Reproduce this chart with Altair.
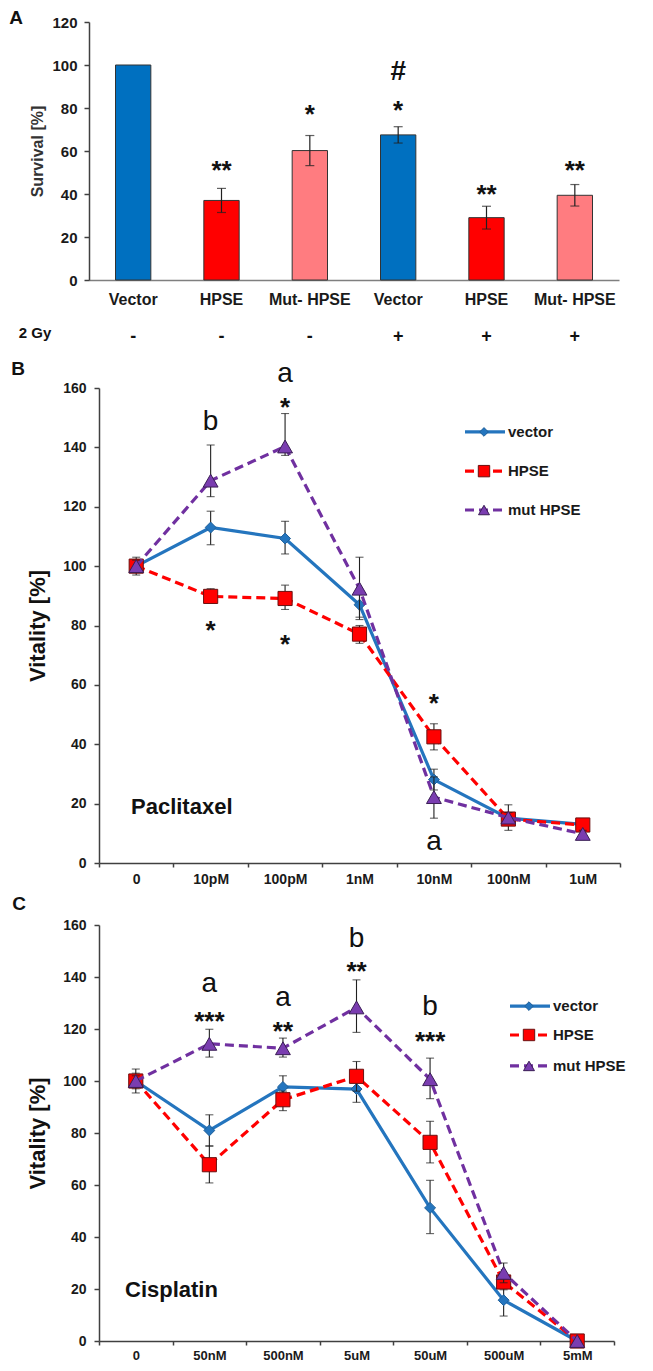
import json
import altair as alt
import pandas as pd

FONT = "Liberation Sans"
AX = "#404040"
ERRC = "#202020"

# ---------------- Panel A data ----------------
a_labels = ["Vector", "HPSE", "Mut- HPSE", "Vector", "HPSE", "Mut- HPSE"]
a_gy = ["-", "-", "-", "+", "+", "+"]
a_values = [100, 37, 60.2, 67.5, 29, 39.4]
a_err = [0, 5.6, 7, 3.8, 5.3, 5]
a_colors = ["#0070C0", "#FF0000", "#FF7C80", "#0070C0", "#FF0000", "#FF7C80"]
a_stars = ["", "**", "*", "*", "**", "**"]
a_star_y = [0, 54, 79.7, 81.7, 42.8, 54]
a_hash = ["", "", "", "#", "", ""]
a_hash_y = [0, 0, 0, 97.4, 0, 0]
a_ticks = [0, 20, 40, 60, 80, 100, 120]

# ---------------- Panel B data (Paclitaxel) ----------------
b_conc = ["0", "10pM", "100pM", "1nM", "10nM", "100nM", "1uM"]
b_vec = [100, 113, 109.3, 87, 28.1, 15.1, 13]
b_vec_hi = [103, 118.5, 115.1, 91.5, 31.6, 19.6, 14]
b_vec_lo = [97, 107.2, 104.1, 82.8, 24.6, 11, 12]
b_hpse = [100, 89.8, 89.1, 77.1, 42.5, 14.8, 12.8]
b_hpse_hi = [102, 92.4, 93.6, 80, 46.9, 16.5, 14.5]
b_hpse_lo = [98, 87.5, 85.4, 74, 38.1, 13, 11]
b_mut = [100, 128.8, 140.3, 92.4, 22.2, 15.3, 9.8]
b_mut_hi = [102, 140.8, 151.4, 103, 29, 17, 11]
b_mut_lo = [98, 123.4, 137.3, 82, 15.1, 13.6, 8.6]
b_letter_x = ["10pM", "100pM", "10nM"]
b_letter_y = [145.8, 162.1, 4.5]
b_letter_t = ["b", "a", "a"]
b_star_x = ["100pM", "10pM", "100pM", "10nM"]
b_star_y = [155.6, 80.6, 75.7, 55.8]
b_star_t = ["*", "*", "*", "*"]
b_legend_y = [145.2, 132.0, 118.9]
b_drug = "Paclitaxel"
b_drug_y = 18.7

# ---------------- Panel C data (Cisplatin) ----------------
c_conc = ["0", "50nM", "500nM", "5uM", "50uM", "500uM", "5mM"]
c_vec = [100, 81, 97.7, 96.9, 51.2, 15.7, 0]
c_vec_hi = [104.6, 87, 102, 102, 61.8, 21.7, 0]
c_vec_lo = [95.4, 74.9, 93.4, 91.8, 41.3, 9.6, 0]
c_hpse = [100, 67.8, 92.8, 101.8, 76.4, 22.7, 0]
c_hpse_hi = [103, 75.1, 96.1, 107.5, 84.5, 25.7, 0]
c_hpse_lo = [97, 60.8, 88.6, 96.1, 68.5, 19.7, 0]
c_mut = [100, 114.3, 112.6, 128.3, 100.7, 26.2, 0]
c_mut_hi = [102, 119.9, 116.5, 138.9, 108.8, 30, 0]
c_mut_lo = [98, 109.2, 109.2, 118.7, 93.2, 22.4, 0]
c_letter_x = ["50nM", "500nM", "5uM", "50uM"]
c_letter_y = [134.4, 128.9, 151.7, 125.4]
c_letter_t = ["a", "a", "b", "b"]
c_star_x = ["50nM", "500nM", "5uM", "50uM"]
c_star_y = [125.4, 121.3, 144.6, 117.8]
c_star_t = ["***", "**", "**", "***"]
c_legend_y = [128.8, 117.7, 105.8]
c_drug = "Cisplatin"
c_drug_y = 19.6

legend_names = ["vector", "HPSE", "mut HPSE"]
vc_ticks = [0, 20, 40, 60, 80, 100, 120, 140, 160]

# ---------------- styles ----------------
STYLES = [
    dict(color="#2475BE", dash=None, shape="diamond", size=120, lsize=75,
         fill="#2475BE", stroke="#1f5f99"),
    dict(color="#FF0000", dash=[9, 5], shape="square", size=200, lsize=130,
         fill="#FF0000", stroke="#6b1010"),
    dict(color="#7030A0", dash=[9, 5], shape="triangle-up", size=220, lsize=120,
         fill="#7a3db0", stroke="#3a1d55"),
]

STAR_FS = 26
LET_FS = 28

# ================= Panel A =================
A_W, A_H = 520, 258
dfa = pd.DataFrame({
    "pos": list(range(len(a_labels))),
    "label": a_labels, "gy": a_gy, "value": a_values,
    "lo": [v - e for v, e in zip(a_values, a_err)],
    "hi": [v + e for v, e in zip(a_values, a_err)],
    "err": a_err, "color": a_colors,
    "star": a_stars, "star_y": a_star_y,
    "hash": a_hash, "hash_y": a_hash_y,
})

axis_a_x = alt.Axis(title=None, labelAngle=0, ticks=False, labelPadding=11,
                    labelFontSize=16, labelFontWeight="bold", labelColor="#1a1a1a",
                    domainColor="#7f7f7f", domainWidth=1.5,
                    labelExpr=json.dumps(a_labels) + "[datum.value]")
axis_a_y = alt.Axis(values=a_ticks, grid=False, offset=10, tickSize=5, labelPadding=7,
                    labelFontSize=15, labelFontWeight="bold", labelColor="#1a1a1a",
                    titleFontSize=16, titleFontWeight="bold", titleColor="#333333",
                    titlePadding=6, domainColor=AX, tickColor=AX, domainWidth=1.5,
                    tickWidth=1.5)
scale_a_x = alt.Scale(type="band", range=[-10, A_W], paddingInner=0.6, paddingOuter=0.3)


def xa(**kw):
    return alt.X("pos:O", scale=scale_a_x, axis=axis_a_x, **kw)


def ya(field):
    return alt.Y(f"{field}:Q", scale=alt.Scale(domain=[0, 120]), axis=axis_a_y,
                 title="Survival [%]")


base_a = alt.Chart(dfa)
bars = base_a.mark_bar(stroke="#333333", strokeWidth=1).encode(
    x=xa(), y=ya("value"), color=alt.Color("color:N", scale=None))
err_a = base_a.transform_filter("datum.err > 0").mark_rule(color=ERRC, strokeWidth=1.2).encode(
    x=xa(bandPosition=0.5), y=ya("lo"), y2="hi:Q")
cap_hi_a = base_a.transform_filter("datum.err > 0").mark_tick(color=ERRC, thickness=1.2, size=9).encode(
    x=xa(bandPosition=0.5), y=ya("hi"))
cap_lo_a = base_a.transform_filter("datum.err > 0").mark_tick(color=ERRC, thickness=1.2, size=9).encode(
    x=xa(bandPosition=0.5), y=ya("lo"))
stars_a = base_a.transform_filter("datum.star != ''").mark_text(
    fontSize=STAR_FS, fontWeight="bold", baseline="alphabetic", dy=0.57 * STAR_FS, color="#111").encode(
    x=xa(bandPosition=0.5), y=ya("star_y"), text="star:N")
hash_a = base_a.transform_filter("datum.hash != ''").mark_text(
    fontSize=28, fontWeight="bold", baseline="alphabetic", dy=0.35 * 28, color="#111").encode(
    x=xa(bandPosition=0.5), y=ya("hash_y"), text="hash:N")
gy_row = base_a.mark_text(fontSize=18, fontWeight="bold", baseline="middle", color="#111").encode(
    x=xa(bandPosition=0.5), y=alt.value(315), text="gy:N")
gy_label = alt.Chart(pd.DataFrame({"t": ["2 Gy"]})).mark_text(
    fontSize=15, fontWeight="bold", baseline="middle", color="#111").encode(
    x=alt.value(-64), y=alt.value(311), text="t:N")
letter_a = alt.Chart(pd.DataFrame({"t": ["A"]})).mark_text(
    fontSize=19, fontWeight="bold", baseline="middle", color="#111").encode(
    x=alt.value(-83), y=alt.value(-4), text="t:N")

panel_a = alt.layer(bars, err_a, cap_hi_a, cap_lo_a, stars_a, hash_a, gy_row, gy_label,
                    letter_a).properties(width=A_W, height=A_H)


# ================= Panels B and C =================
def line_panel(conc, series, width, height, off, letters, stars, legend_y,
               legend_x, drug, drug_x, drug_y, letter, letter_xy, title_pad, xfs, xpad):
    scale_x = alt.Scale(type="band", paddingInner=0, paddingOuter=0)
    axis_x = alt.Axis(title=None, labelAngle=0, tickBand="extent", tickSize=4,
                      labelPadding=xpad, labelFontSize=xfs, labelFontWeight="bold",
                      labelColor="#1a1a1a", domainColor=AX, tickColor=AX,
                      domainWidth=1.5, tickWidth=1.5)
    scale_y = alt.Scale(domain=[0, 160], range=[height, off])
    axis_y = alt.Axis(values=vc_ticks, grid=False, tickSize=5, labelPadding=8,
                      labelFontSize=14, labelFontWeight="bold", labelColor="#1a1a1a",
                      titleFontSize=22, titleFontWeight="bold", titleColor="#111",
                      titlePadding=title_pad, domainColor=AX, tickColor=AX,
                      domainWidth=1.5, tickWidth=1.5)

    def xf(field="conc"):
        return alt.X(f"{field}:N", sort=conc, scale=scale_x, axis=axis_x, bandPosition=0.5)

    def yf(field):
        return alt.Y(f"{field}:Q", scale=scale_y, axis=axis_y, title="Vitality [%]")

    layers = []
    for (vals, hi, lo), st, name, ly in zip(series, STYLES, legend_names, legend_y):
        df = pd.DataFrame({"conc": conc, "value": vals, "hi": hi, "lo": lo})
        base = alt.Chart(df)
        lkw = dict(color=st["color"], strokeWidth=3.2)
        if st["dash"]:
            lkw["strokeDash"] = st["dash"]
        layers.append(base.mark_line(**lkw).encode(x=xf(), y=yf("value")))
        layers.append(base.mark_rule(color=ERRC, strokeWidth=1.1).encode(
            x=xf(), y=yf("lo"), y2="hi:Q"))
        layers.append(base.mark_tick(color=ERRC, thickness=1.1, size=8).encode(
            x=xf(), y=yf("hi")))
        layers.append(base.mark_tick(color=ERRC, thickness=1.1, size=8).encode(
            x=xf(), y=yf("lo")))
        layers.append(base.mark_point(shape=st["shape"], size=st["size"], filled=True,
                                      fill=st["fill"], stroke=st["stroke"],
                                      strokeWidth=1, opacity=1).encode(
            x=xf(), y=yf("value")))
        # legend entry
        dl = pd.DataFrame({"name": [name], "ly": [ly]})
        lb = alt.Chart(dl)
        layers.append(lb.mark_rule(**lkw).encode(
            x=alt.value(legend_x), x2=alt.value(legend_x + 40), y=yf("ly")))
        layers.append(lb.mark_point(shape=st["shape"], size=st["lsize"], filled=True,
                                    fill=st["fill"], stroke=st["stroke"],
                                    strokeWidth=1, opacity=1).encode(
            x=alt.value(legend_x + 19), y=yf("ly")))
        layers.append(lb.mark_text(align="left", baseline="middle", fontSize=15,
                                   fontWeight="bold", color="#1a1a1a").encode(
            x=alt.value(legend_x + 43), y=yf("ly"), text="name:N"))

    lx, ly_, lt = letters
    dlet = pd.DataFrame({"conc": lx, "y": ly_, "t": lt})
    layers.append(alt.Chart(dlet).mark_text(fontSize=LET_FS, baseline="alphabetic",
                                            color="#111").encode(
        x=xf(), y=yf("y"), text="t:N"))
    sx, sy, stt = stars
    dst = pd.DataFrame({"conc": sx, "y": sy, "t": stt})
    layers.append(alt.Chart(dst).mark_text(fontSize=STAR_FS, fontWeight="bold",
                                           baseline="alphabetic", dy=0.57 * STAR_FS,
                                           color="#111").encode(
        x=xf(), y=yf("y"), text="t:N"))
    ddrug = pd.DataFrame({"t": [drug], "y": [drug_y]})
    layers.append(alt.Chart(ddrug).mark_text(fontSize=22, fontWeight="bold", align="left",
                                             baseline="middle", color="#111").encode(
        x=alt.value(drug_x), y=yf("y"), text="t:N"))
    dletter = pd.DataFrame({"t": [letter]})
    layers.append(alt.Chart(dletter).mark_text(fontSize=19, fontWeight="bold",
                                               baseline="middle", color="#111").encode(
        x=alt.value(letter_xy[0]), y=alt.value(letter_xy[1]), text="t:N"))
    return alt.layer(*layers).properties(width=width, height=height)


SPACING = 20
B_W, B_OFF = 521, 88
B_H = B_OFF + 475
C_W, C_OFF = 515, 42
C_H = C_OFF + 416

panel_b = line_panel(
    b_conc,
    [(b_vec, b_vec_hi, b_vec_lo), (b_hpse, b_hpse_hi, b_hpse_lo), (b_mut, b_mut_hi, b_mut_lo)],
    B_W, B_H, B_OFF,
    (b_letter_x, b_letter_y, b_letter_t), (b_star_x, b_star_y, b_star_t),
    b_legend_y, 366, b_drug, 32, b_drug_y, "B", (-81, B_OFF - 19), 13, 14, 5)

panel_c = line_panel(
    c_conc,
    [(c_vec, c_vec_hi, c_vec_lo), (c_hpse, c_hpse_hi, c_hpse_lo), (c_mut, c_mut_hi, c_mut_lo)],
    C_W, C_H, C_OFF,
    (c_letter_x, c_letter_y, c_letter_t), (c_star_x, c_star_y, c_star_t),
    c_legend_y, 411, c_drug, 26, c_drug_y, "C", (-80, C_OFF - 21), 13, 13, 4)

chart = alt.vconcat(panel_a, panel_b, panel_c, spacing=SPACING, bounds="flush").properties(
    padding={"left": 0, "top": 0, "right": 0, "bottom": 0}
).configure_view(stroke="transparent").configure_axis(
    labelFont=FONT, titleFont=FONT
).configure_text(font=FONT)

chart.save("out.html", embed_options={"renderer": "svg", "actions": False})
